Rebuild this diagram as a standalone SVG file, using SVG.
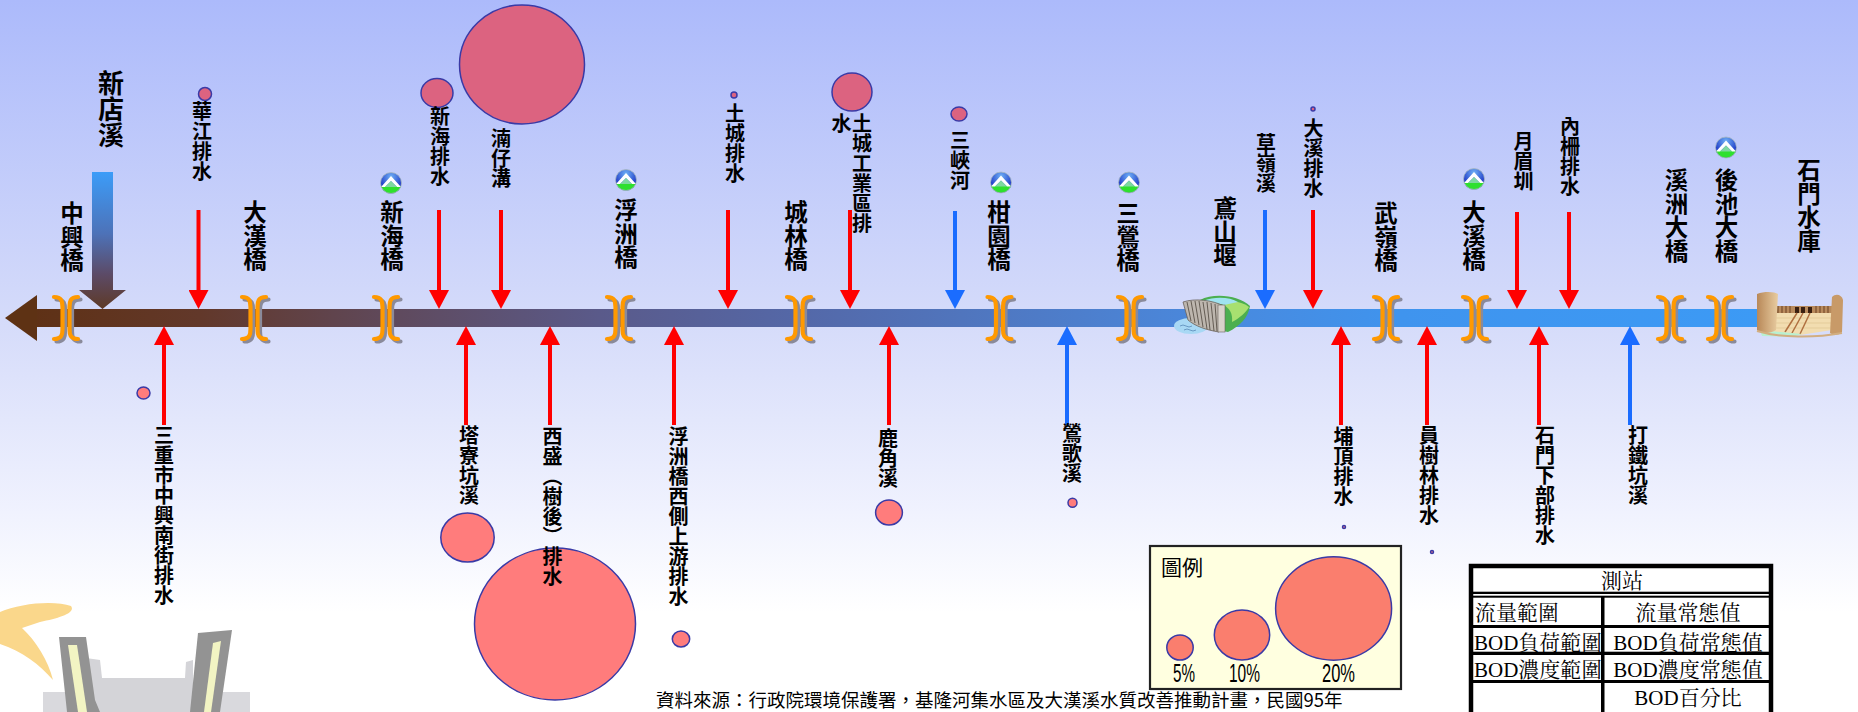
<svg xmlns="http://www.w3.org/2000/svg" xmlns:xlink="http://www.w3.org/1999/xlink" width="1858" height="712" viewBox="0 0 1858 712">
<style>
.v { font-family: "Noto Sans CJK TC", "Noto Sans CJK SC", sans-serif; font-weight: 700; fill: #000; writing-mode: vertical-rl; }
.f20 { font-size: 20px; }
.f23 { font-size: 23.5px; }
.ct { fill: #DC6380; stroke: #3A3AA6; stroke-width: 1.5; }
.cb { fill: #FF7C7C; stroke: #3A3AA6; stroke-width: 1.5; }
.cl { fill: #FA7E6E; stroke: #3A3AA6; stroke-width: 1.5; }
.red { stroke: #FF0000; stroke-width: 4; fill: none; marker-end: url(#headR); }
.blue { stroke: #1A6CFF; stroke-width: 4; fill: none; marker-end: url(#headB); }
.tb { font-family: "Liberation Serif", "Noto Serif CJK TC", "Noto Sans CJK TC", serif; font-size: 21px; fill: #000; }
.lg { font-family: "Liberation Sans Narrow", "Liberation Sans", sans-serif; font-size: 25px; fill: #000; }
.br { fill: none; stroke: #FF9900; stroke-width: 4.2; stroke-linecap: round; }
.brs { fill: none; stroke: #8A8A9A; stroke-width: 4.2; stroke-linecap: round; }
</style>
<defs>
  <linearGradient id="bg" x1="0" y1="0" x2="0" y2="1">
    <stop offset="0" stop-color="#ACBAFB"/>
    <stop offset="0.46" stop-color="#D6DCFA"/>
    <stop offset="0.72" stop-color="#F0F2FE"/>
    <stop offset="0.86" stop-color="#FFFFFF"/>
  </linearGradient>
  <linearGradient id="river" gradientUnits="userSpaceOnUse" x1="5" y1="0" x2="1760" y2="0">
    <stop offset="0" stop-color="#5E3012"/>
    <stop offset="0.111" stop-color="#62382A"/>
    <stop offset="0.225" stop-color="#5F4A5E"/>
    <stop offset="0.339" stop-color="#5A5A8A"/>
    <stop offset="0.453" stop-color="#5468A8"/>
    <stop offset="0.567" stop-color="#4F78C2"/>
    <stop offset="0.681" stop-color="#4A88DC"/>
    <stop offset="0.795" stop-color="#3F94EE"/>
    <stop offset="1" stop-color="#3C9AF5"/>
  </linearGradient>
  <linearGradient id="xindian" gradientUnits="userSpaceOnUse" x1="0" y1="172" x2="0" y2="309">
    <stop offset="0" stop-color="#3C9CF8"/>
    <stop offset="0.45" stop-color="#4D72B8"/>
    <stop offset="0.75" stop-color="#5C4A66"/>
    <stop offset="1" stop-color="#5E3A26"/>
  </linearGradient>
  <radialGradient id="epaSky" cx="0.5" cy="0.2" r="0.7">
    <stop offset="0" stop-color="#6FB0F5"/>
    <stop offset="1" stop-color="#1226C0"/>
  </radialGradient>
  <linearGradient id="tan" x1="0" y1="0" x2="1" y2="0">
    <stop offset="0" stop-color="#B88858"/>
    <stop offset="1" stop-color="#E8CCA0"/>
  </linearGradient>
  <clipPath id="epaClip"><circle r="10.5"/></clipPath>
  <clipPath id="leftCol"><rect x="1470" y="596" width="131" height="120"/></clipPath>
  <marker id="headR" markerUnits="userSpaceOnUse" viewBox="0 -10 19 20" markerWidth="19" markerHeight="20" refX="1" refY="0" orient="auto">
    <path d="M0,-10 L19,0 L0,10 Z" fill="#FF0000"/>
  </marker>
  <marker id="headB" markerUnits="userSpaceOnUse" viewBox="0 -10 19 20" markerWidth="19" markerHeight="20" refX="1" refY="0" orient="auto">
    <path d="M0,-10 L19,0 L0,10 Z" fill="#1A6CFF"/>
  </marker>
  <!-- bridge mark: a pair of facing brackets with a grey drop shadow -->
  <g id="bridge">
    <g transform="translate(2.5,2.5)">
      <path class="brs" d="M-12,-21 C-4,-21 -3.5,-16 -3.5,-11 L-3.5,11 C-3.5,16 -4,21 -12,21"/>
      <path class="brs" d="M12,-21 C4,-21 3.5,-16 3.5,-11 L3.5,11 C3.5,16 4,21 12,21"/>
    </g>
    <path class="br" d="M-12,-21 C-4,-21 -3.5,-16 -3.5,-11 L-3.5,11 C-3.5,16 -4,21 -12,21"/>
    <path class="br" d="M12,-21 C4,-21 3.5,-16 3.5,-11 L3.5,11 C3.5,16 4,21 12,21"/>
  </g>
  <!-- monitoring station emblem -->
  <g id="epa">
    <circle r="10.5" fill="url(#epaSky)"/>
    <g clip-path="url(#epaClip)">
      <rect x="-11" y="3" width="22" height="9" fill="#2EE02E"/>
      <path d="M-10,4 L0,-7 L10,4 L6,4 L0,-2 L-6,4 Z" fill="#FFFFFF"/>
      <path d="M-6,4 L0,-2 L6,4 Z" fill="#7ED8A0"/>
    </g>
    <circle r="10.5" fill="none" stroke="#A8B8C0" stroke-width="0.8"/>
  </g>
</defs>

<!-- sky -->
<rect x="0" y="0" width="1858" height="712" fill="url(#bg)"/>

<!-- faded clipart, lower left -->
<g id="deco" opacity="0.95">
  <path d="M0,612 C20,603 55,600 71,606 C76,613 60,618 40,622 L22,628 C36,641 48,660 53,680 C40,665 22,651 0,644 Z" fill="#FAD585"/>
  <rect x="43" y="692" width="207" height="20" fill="#D8D8DC"/>
  <path d="M86,658 L100,660 L102,678 L185,678 L186,662 L193,660 L193,712 L86,712 Z" fill="#D2D2D6"/>
  <path d="M59,637 L86,637 L95,700 L100,712 L67,712 Z" fill="#8E8E8E"/>
  <path d="M68,645 L77,645 L87,712 L78,712 Z" fill="#F2F4C0"/>
  <path d="M198,633 L232,630 L220,712 L190,712 Z" fill="#8E8E8E"/>
  <path d="M213,643 L221,641 L211,712 L204,712 Z" fill="#F2F4C0"/>
</g>

<!-- main river -->
<g id="river-main">
  <rect x="35" y="309" width="1730" height="18" fill="url(#river)"/>
  <path d="M5,318 L37,295 L37,341 Z" fill="#5E3214"/>
</g>

<!-- connectors: tributary inflows -->
<g id="connectors">
  <path d="M92,172 H113 V290 H126 L102.5,309 L79,290 H92 Z" fill="url(#xindian)"/>
  <line class="red" x1="198.5" y1="210" x2="198.5" y2="291"/>
  <line class="red" x1="439" y1="210" x2="439" y2="291"/>
  <line class="red" x1="501" y1="210" x2="501" y2="291"/>
  <line class="red" x1="728" y1="210" x2="728" y2="291"/>
  <line class="red" x1="850" y1="210" x2="850" y2="291"/>
  <line class="blue" x1="955" y1="211" x2="955" y2="291"/>
  <line class="blue" x1="1265" y1="210" x2="1265" y2="291"/>
  <line class="red" x1="1313" y1="210" x2="1313" y2="291"/>
  <line class="red" x1="1517" y1="212" x2="1517" y2="291"/>
  <line class="red" x1="1569" y1="212" x2="1569" y2="291"/>

  <line class="red" x1="164" y1="425" x2="164" y2="344"/>
  <line class="red" x1="466" y1="425" x2="466" y2="344"/>
  <line class="red" x1="550" y1="425" x2="550" y2="344"/>
  <line class="red" x1="674" y1="425" x2="674" y2="344"/>
  <line class="red" x1="889" y1="425" x2="889" y2="344"/>
  <line class="blue" x1="1067" y1="425" x2="1067" y2="344"/>
  <line class="red" x1="1341" y1="425" x2="1341" y2="344"/>
  <line class="red" x1="1427" y1="425" x2="1427" y2="344"/>
  <line class="red" x1="1539" y1="425" x2="1539" y2="344"/>
  <line class="blue" x1="1630" y1="425" x2="1630" y2="344"/>
</g>

<!-- bridges and stations -->
<g id="bridge-zhongxing"><use href="#bridge" x="66" y="318"/><text class="v f23" x="72" y="201.5">中興橋</text></g>
<g id="bridge-dahan"><use href="#bridge" x="254" y="318"/><text class="v f23" x="255" y="200.5">大漢橋</text></g>
<g id="bridge-xinhai"><use href="#bridge" x="386" y="318"/><use href="#epa" x="391" y="183"/><text class="v f23" x="392" y="200.5">新海橋</text></g>
<g id="bridge-fuzhou"><use href="#bridge" x="619" y="318"/><use href="#epa" x="626" y="180"/><text class="v f23" x="626" y="198.5">浮洲橋</text></g>
<g id="bridge-chenglin"><use href="#bridge" x="799" y="318"/><text class="v f23" x="796" y="200.5">城林橋</text></g>
<g id="bridge-ganyuan"><use href="#bridge" x="999.5" y="318"/><use href="#epa" x="1001" y="182.5"/><text class="v f23" x="999" y="200.5">柑園橋</text></g>
<g id="bridge-sanying"><use href="#bridge" x="1130" y="318"/><use href="#epa" x="1129" y="182.5"/><text class="v f23" x="1128" y="201.5">三鶯橋</text></g>
<g id="bridge-wuling"><use href="#bridge" x="1386" y="318"/><text class="v f23" x="1386" y="201.5">武嶺橋</text></g>
<g id="bridge-daxi"><use href="#bridge" x="1475" y="318"/><use href="#epa" x="1474" y="179"/><text class="v f23" x="1474" y="200.5">大溪橋</text></g>
<g id="bridge-xizhou"><use href="#bridge" x="1670" y="318"/><text class="v f23" x="1676.5" y="168.5">溪洲大橋</text></g>
<g id="bridge-houchi"><use href="#bridge" x="1720" y="318"/><use href="#epa" x="1726" y="147.5"/><text class="v f23" x="1726.5" y="168.5">後池大橋</text></g>

<!-- weir -->
<g id="weir-yuanshan">
  <ellipse cx="1191" cy="326" rx="17" ry="8" fill="#A8D8F4"/>
  <path d="M1180,326 q3,-2 6,0 t6,0 M1184,330 q3,-2 6,0 t6,0" fill="none" stroke="#5A8AB8" stroke-width="0.8"/>
  <path d="M1200,300 C1215,292 1240,296 1250,306 C1248,318 1240,326 1228,332 L1218,330 L1215,305 Z" fill="#4CAF50"/>
  <path d="M1222,304 C1232,300 1243,302 1249,307 C1246,312 1240,318 1232,322 C1233,314 1230,308 1222,304 Z" fill="#A8E070"/>
  <path d="M1203,301 C1215,296 1230,297 1238,302 L1224,305 C1218,303 1210,303 1205,305 Z" fill="#9FE3F0"/>
  <path d="M1183,302 C1195,298 1212,300 1224,306 L1219,332 C1206,330 1195,326 1188,320 Z" fill="#BDB6AE" stroke="#6A625A" stroke-width="0.8"/>
  <path d="M1187,302 L1191,321 M1191,301 L1195,323 M1195,301 L1199,325 M1199,301 L1203,327 M1203,302 L1207,329 M1207,302 L1210,330 M1211,303 L1214,331 M1215,304 L1217,331" stroke="#5A524A" stroke-width="0.9"/>
  <rect x="1218" y="305" width="7" height="27" fill="#D8D2CA" stroke="#6A625A" stroke-width="0.6"/>
  <text class="v f23" x="1225" y="196.5">鳶山堰</text>
</g>

<!-- reservoir -->
<g id="reservoir-shimen">
  <path d="M1774,313 L1834,313 L1832,330 L1800,335 L1762,334 Z" fill="#F2DDB0"/>
  <path d="M1776,318 H1832 M1774,323 H1832 M1770,328 H1830" stroke="#E0C494" stroke-width="0.7"/>
  <rect x="1774" y="306" width="60" height="7" fill="#B88A5C"/>
  <path d="M1778,306 v7 M1782,306 v7 M1786,306 v7 M1790,306 v7 M1816,306 v7 M1820,306 v7 M1824,306 v7 M1828,306 v7" stroke="#6A4020" stroke-width="1"/>
  <rect x="1795" y="307" width="4" height="6" fill="#3A2010"/>
  <rect x="1801" y="307" width="4" height="6" fill="#3A2010"/>
  <rect x="1808" y="307" width="4" height="6" fill="#3A2010"/>
  <path d="M1797,313 L1785,332 M1803,313 L1792,333 M1810,313 L1800,334" stroke="#B07040" stroke-width="1.5"/>
  <path d="M1760,330 L1802,334 L1792,337 L1762,336 Z" fill="#B8F0D0"/>
  <path d="M1757,294 C1765,291 1775,292 1778,294 L1776,330 C1770,334 1762,334 1757,330 Z" fill="url(#tan)"/>
  <path d="M1832,297 C1836,293 1842,295 1843,300 L1842,332 C1838,336 1833,335 1830,333 Z" fill="#C89A68"/>
  <path d="M1757,331 C1780,338 1815,338 1842,333" fill="none" stroke="#D2AE80" stroke-width="2"/>
  <text class="v f23" x="1809" y="158.5">石門水庫</text>
</g>

<!-- upstream tributary -->
<g id="trib-xindian"><text class="v" x="111" y="70.5" style="font-size:26px">新店溪</text></g>

<!-- tributaries entering from above -->
<g id="trib-huajiang"><circle class="ct" cx="205" cy="94" r="6.5"/><text class="v f20" x="202" y="101.5">華江排水</text></g>
<g id="trib-xinhai"><ellipse class="ct" cx="437" cy="93" rx="16" ry="14.5"/><text class="v f20" x="440" y="106.5">新海排水</text></g>
<g id="trib-nanzai"><ellipse class="ct" cx="522" cy="64.5" rx="62.5" ry="59.5"/><text class="v f20" x="501" y="128.5">湳仔溝</text></g>
<g id="trib-tucheng"><circle class="ct" cx="734" cy="95" r="3"/><text class="v f20" x="735" y="103.5">土城排水</text></g>
<g id="trib-tucheng-ind"><ellipse class="ct" cx="852" cy="92" rx="20" ry="19"/><text class="v f20" x="862" y="113.5">土城工業區排</text><text class="v f20" x="841.5" y="113.5">水</text></g>
<g id="trib-sanxia"><ellipse class="ct" cx="959" cy="114" rx="8" ry="7"/><text class="v f20" x="960" y="130.5">三峽河</text></g>
<g id="trib-caoling"><text class="v f20" x="1266" y="133.5">草嶺溪</text></g>
<g id="trib-daxi"><circle class="ct" cx="1313" cy="109" r="2"/><text class="v f20" x="1313.5" y="118.5">大溪排水</text></g>
<g id="trib-yuemei"><text class="v f20" x="1523.5" y="131.5">月眉圳</text></g>
<g id="trib-neizha"><text class="v f20" x="1570" y="116.5">內柵排水</text></g>

<!-- tributaries entering from below -->
<g id="trib-sanchong"><ellipse class="cb" cx="143.5" cy="393" rx="6.5" ry="6"/><text class="v f20" x="164" y="425.5">三重市中興南街排水</text></g>
<g id="trib-taliao"><ellipse class="cb" cx="467.5" cy="537.5" rx="26.7" ry="24.5"/><text class="v f20" x="469" y="425.5">塔寮坑溪</text></g>
<g id="trib-xisheng"><ellipse class="cb" cx="555" cy="624" rx="80.5" ry="76"/><text class="v f20" x="552.5" y="426.5">西盛（樹後）排水</text></g>
<g id="trib-fuzhou-west"><ellipse class="cb" cx="681" cy="639" rx="8.7" ry="8"/><text class="v f20" x="678.5" y="426.5">浮洲橋西側上游排水</text></g>
<g id="trib-lujiao"><ellipse class="cb" cx="889" cy="512.5" rx="13.4" ry="12.5"/><text class="v f20" x="888" y="428.5">鹿角溪</text></g>
<g id="trib-yingge"><circle class="cb" cx="1072.5" cy="502.7" r="4.5"/><text class="v f20" x="1072" y="423.5">鶯歌溪</text></g>
<g id="trib-puding"><circle class="cb" cx="1344" cy="527" r="1.5"/><text class="v f20" x="1343.5" y="426.5">埔頂排水</text></g>
<g id="trib-yuanshulin"><circle class="cb" cx="1432" cy="552" r="1.5"/><text class="v f20" x="1429" y="425.5">員樹林排水</text></g>
<g id="trib-shimen-lower"><text class="v f20" x="1545" y="425.5">石門下部排水</text></g>
<g id="trib-datie"><text class="v f20" x="1638" y="425.5">打鐵坑溪</text></g>

<!-- legend -->
<g id="legend">
  <rect x="1150" y="546" width="251" height="143" fill="#FFFFE0" stroke="#222" stroke-width="2.2"/>
  <text x="1161" y="575" style="font-family:'Noto Sans CJK TC',sans-serif;font-size:21px">圖例</text>
  <ellipse class="cl" cx="1180" cy="647.5" rx="13.2" ry="12.5"/>
  <ellipse class="cl" cx="1242" cy="635" rx="27.7" ry="25"/>
  <ellipse class="cl" cx="1333.6" cy="608.5" rx="58" ry="51.7"/>
  <text class="lg" x="1173" y="682" textLength="22" lengthAdjust="spacingAndGlyphs">5%</text>
  <text class="lg" x="1229" y="682" textLength="31" lengthAdjust="spacingAndGlyphs">10%</text>
  <text class="lg" x="1322" y="682" textLength="33" lengthAdjust="spacingAndGlyphs">20%</text>
</g>

<!-- station key table -->
<g id="station-table">
  <rect x="1471" y="566" width="300" height="160" fill="#FFFFFF" stroke="#000" stroke-width="4.5"/>
  <rect x="1470" y="591.7" width="302" height="2.3" fill="#000"/>
  <rect x="1470" y="595.7" width="302" height="2" fill="#000"/>
  <rect x="1470" y="625" width="302" height="3" fill="#000"/>
  <rect x="1470" y="651.7" width="302" height="3.3" fill="#000"/>
  <rect x="1470" y="680" width="302" height="3" fill="#000"/>
  <text class="tb" x="1622" y="588" text-anchor="middle">測站</text>
  <g clip-path="url(#leftCol)">
    <text class="tb" x="1475" y="620">流量範圍</text>
    <text class="tb" x="1474" y="650">BOD負荷範圍</text>
    <text class="tb" x="1474" y="677">BOD濃度範圍</text>
  </g>
  <rect x="1601" y="596" width="3.5" height="120" fill="#000"/>
  <text class="tb" x="1688" y="620" text-anchor="middle">流量常態值</text>
  <text class="tb" x="1688" y="650" text-anchor="middle">BOD負荷常態值</text>
  <text class="tb" x="1688" y="677" text-anchor="middle">BOD濃度常態值</text>
  <text class="tb" x="1688" y="705" text-anchor="middle">BOD百分比</text>
</g>

<!-- source note -->
<text x="656" y="706.5" style="font-family:'Noto Sans CJK TC',sans-serif;font-size:18.5px;fill:#000">資料來源：行政院環境保護署，基隆河集水區及大漢溪水質改善推動計畫，民國95年</text>
</svg>
